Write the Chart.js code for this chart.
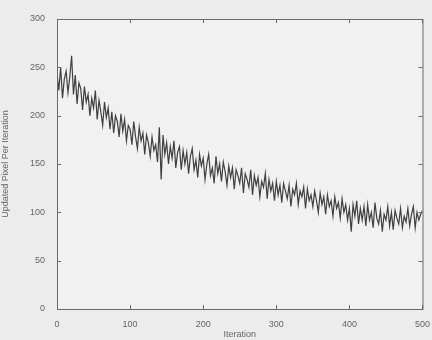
<!DOCTYPE html>
<html>
<head>
<meta charset="utf-8">
<script src="https://cdn.jsdelivr.net/npm/chart.js@4"></script>
<style>
  html, body { margin: 0; padding: 0; background: #ececec; }
  #wrap { width: 432px; height: 340px; }
</style>
</head>
<body>
<div id="wrap"><canvas id="iter_chart" width="432" height="340"></canvas></div>
<script>
// one sample every 2.5 iterations
const step = 2.5;
const updates = [
  244,226,250,218,238,246,224,240,262,222,
  242,212,234,228,206,230,214,222,200,218,
  208,226,196,216,204,190,214,198,208,186,
  204,182,200,194,178,202,184,196,174,190,
  186,170,194,178,166,188,174,182,160,180,
  172,158,178,164,170,152,188,134,180,160,
  172,150,168,156,174,146,162,168,144,164,
  150,162,140,158,166,144,154,136,160,148,
  156,134,150,160,138,146,130,158,140,150,
  132,152,142,128,148,136,146,124,144,138,
  130,146,120,140,134,126,144,118,138,128,
  136,116,132,126,140,114,134,122,130,112,
  132,118,128,110,130,122,114,128,106,124,
  118,130,108,122,116,126,104,124,112,118,
  106,122,112,100,120,108,116,98,118,106,
  112,96,116,104,110,94,114,100,108,92,
  104,80,108,96,112,88,104,92,106,86,
  108,92,100,84,110,94,88,102,80,98,
  92,106,86,100,82,102,94,88,104,84,
  96,90,104,86,98,106,84,100,92,98,
  102
];
const iterations = updates.map((v, i) => i * step);
const xTicks = [0, 100, 200, 300, 400, 500];
const yTicks = [0, 50, 100, 150, 200, 250, 300];

const points = iterations.map((x, i) => ({ x: x, y: updates[i] }));

// MATLAB-like box with inward ticks
const boxPlugin = {
  id: 'box',
  beforeDraw(chart) {
    const { ctx, chartArea: a } = chart;
    ctx.save();
    ctx.fillStyle = '#f1f1f1';
    ctx.fillRect(a.left, a.top, a.right - a.left, a.bottom - a.top);
    ctx.restore();
  },
  afterDraw(chart) {
    const { ctx, chartArea: a, scales } = chart;
    ctx.save();
    ctx.strokeStyle = '#6a6a6a';
    ctx.lineWidth = 1;
    ctx.strokeRect(a.left + 0.5, a.top + 0.5, a.right - a.left, a.bottom - a.top);
    ctx.beginPath();
    xTicks.forEach(t => {
      const px = Math.round(scales.x.getPixelForValue(t)) + 0.5;
      ctx.moveTo(px, a.bottom); ctx.lineTo(px, a.bottom - 4);
      ctx.moveTo(px, a.top); ctx.lineTo(px, a.top + 4);
    });
    yTicks.forEach(t => {
      const py = Math.round(scales.y.getPixelForValue(t)) + 0.5;
      ctx.moveTo(a.left, py); ctx.lineTo(a.left + 4, py);
      ctx.moveTo(a.right, py); ctx.lineTo(a.right - 4, py);
    });
    ctx.stroke();
    ctx.restore();
  }
};

Chart.defaults.font.family = '"Liberation Sans", Arial, sans-serif';
Chart.defaults.color = '#666666';

let ctx = document.getElementById('iter_chart').getContext('2d');
let iter_chart = new Chart(ctx, {
  type: 'line',
  data: {
    datasets: [{
      label: 'Updated Pixel Per Iteration',
      data: points,
      borderColor: '#404040',
      borderWidth: 1.2,
      pointRadius: 0,
      tension: 0,
      fill: false
    }]
  },
  options: {
    responsive: false,
    animation: false,
    layout: { padding: { left: 0, right: 9, top: 19, bottom: 0 } },
    plugins: { legend: { display: false }, tooltip: { enabled: false } },
    scales: {
      x: {
        type: 'linear',
        min: 0, max: 500,
        afterBuildTicks: s => { s.ticks = xTicks.map(v => ({ value: v })); },
        afterFit: s => { s.height = 31; },
        grid: { display: false },
        border: { display: false },
        ticks: { font: { size: 9 }, padding: 2, maxRotation: 0 },
        title: { display: true, text: 'Iteration', font: { size: 9 }, padding: { top: 0, bottom: 0 } }
      },
      y: {
        type: 'linear',
        min: 0, max: 300,
        afterBuildTicks: s => { s.ticks = yTicks.map(v => ({ value: v })); },
        afterFit: s => { s.width = 57; },
        grid: { display: false },
        border: { display: false },
        ticks: { font: { size: 9 }, padding: 4 },
        title: { display: true, text: 'Updated Pixel Per Iteration', font: { size: 9 }, padding: { top: 0, bottom: 6 } }
      }
    }
  },
  plugins: [boxPlugin]
});
</script>
</body>
</html>
